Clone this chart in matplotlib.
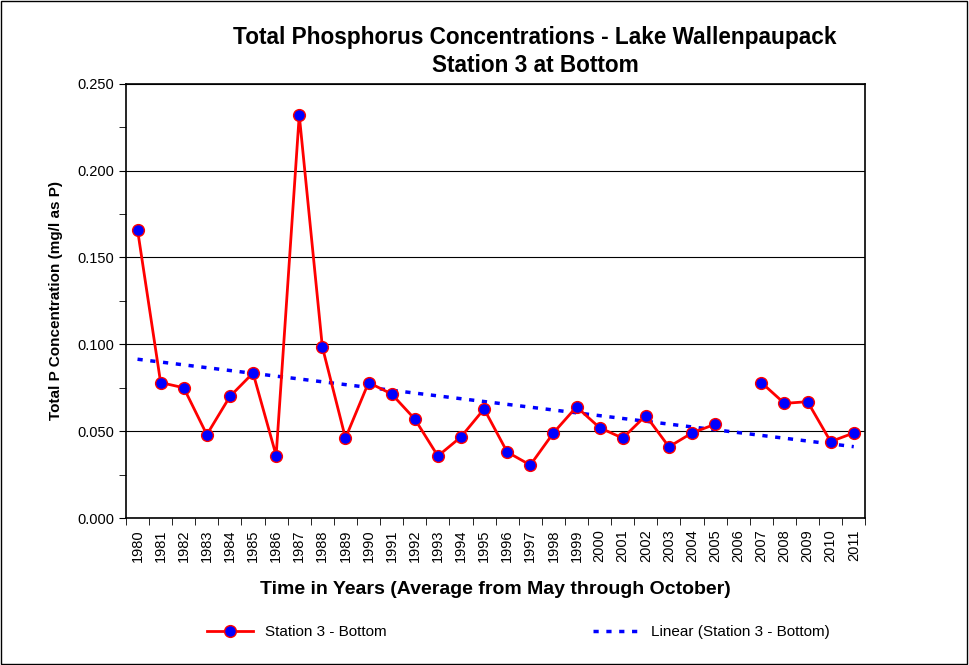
import numpy as np
from matplotlib import pyplot as plt
from matplotlib.ticker import MultipleLocator

plt.rcParams['font.family'] = ['Liberation Sans', 'DejaVu Sans']

years = [str(y) for y in range(1980, 2012)]
phos = [0.166, 0.078, 0.075, 0.048, 0.070, 0.0835, 0.036, 0.232, 0.0985, 0.046,
        0.078, 0.0714, 0.057, 0.0357, 0.0467, 0.0628, 0.038, 0.0305, 0.049, 0.064,
        0.052, 0.046, 0.059, 0.041, 0.049, 0.054, np.nan, 0.078, 0.066, 0.067,
        0.044, 0.049]

x = np.arange(len(years))
y = np.array(phos)

# linear trend like Excel, fitted over the non-blank points
ok = ~np.isnan(y)
slope, icpt = np.polyfit(x[ok], y[ok], 1)
trend = slope * x + icpt

fig = plt.figure(figsize=(9.69, 6.65), dpi=100)
fig.patches.append(plt.Rectangle((0.001, 0.001), 0.997, 0.997, transform=fig.transFigure,
                                 fill=False, edgecolor='black', linewidth=1))
ax = fig.add_axes([0.130, 0.221, 0.763, 0.653])

ax.plot(x, trend, color='blue', linestyle=(0, (1.5, 2.2)), linewidth=2.5,
        label='Linear (Station 3 - Bottom)', zorder=2)
ax.plot(x, y, color='red', linewidth=2, marker='o', markersize=8.5,
        markerfacecolor='blue', markeredgecolor='red', markeredgewidth=1,
        label='Station 3 - Bottom', zorder=3)

ax.set_xlim(-0.5, len(years) - 0.5)
ax.set_ylim(0, 0.25)
ax.yaxis.set_major_locator(MultipleLocator(0.05))
ax.yaxis.set_minor_locator(MultipleLocator(0.025))
ax.set_yticklabels([f'{v:.3f}' for v in ax.get_yticks()], fontsize=10.5)
ax.grid(axis='y', which='major', color='black', linewidth=0.8)
ax.set_axisbelow(True)

ax.set_xticks(x)
ax.set_xticklabels(years, rotation=90, fontsize=10.5)
ax.set_xticks(np.arange(-0.5, len(years), 1), minor=True)
ax.tick_params(axis='x', which='major', length=0, pad=8)
ax.tick_params(axis='x', which='minor', length=5, direction='out')
ax.tick_params(axis='y', which='both', direction='out', length=5)

for s in ax.spines.values():
    s.set_linewidth(1.2)

fig.text(0.552, 0.923, 'Total Phosphorus Concentrations - Lake Wallenpaupack\nStation 3 at Bottom',
         ha='center', va='center', fontsize=16.3, fontweight='bold', linespacing=1.3)
ax.set_ylabel('Total P Concentration (mg/l as P)', fontsize=11, fontweight='bold', labelpad=10)
ax.set_xlabel('Time in Years (Average from May through October)',
              fontsize=14, fontweight='bold', labelpad=14)

h, l = ax.get_legend_handles_labels()
fig.legend(h[::-1], l[::-1], loc='center', bbox_to_anchor=(0.535, 0.049), ncol=2,
           frameon=False, columnspacing=13.5, handlelength=3,
           prop={'size': 11})

fig.savefig('out.png', dpi=100)
